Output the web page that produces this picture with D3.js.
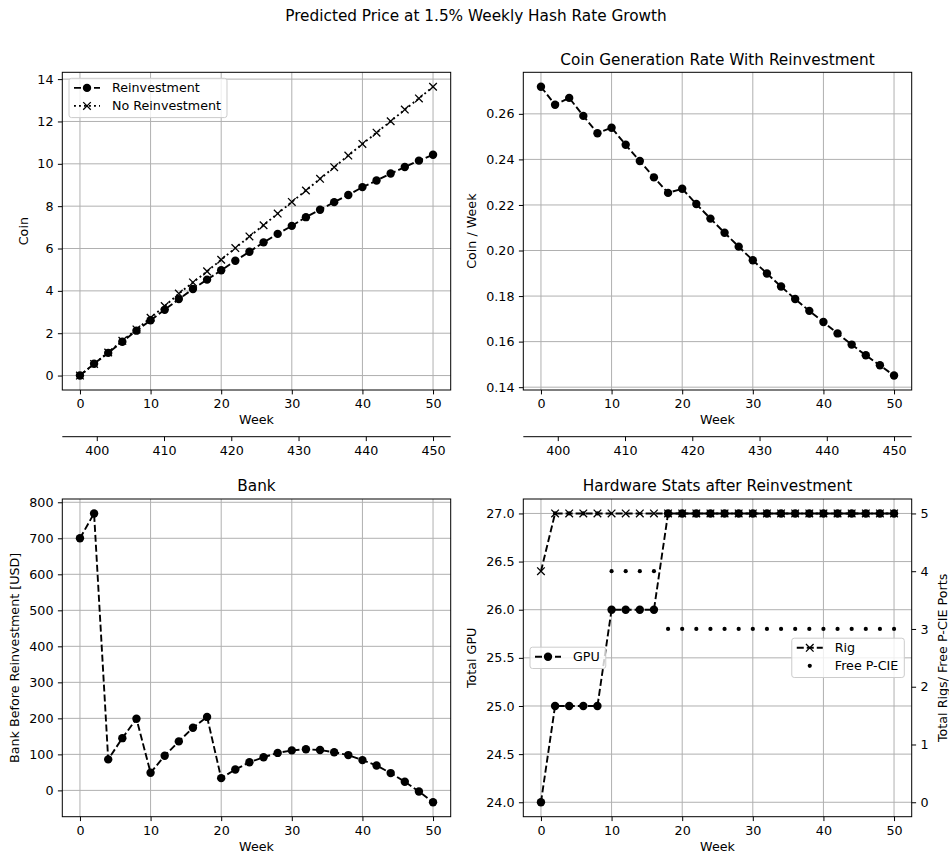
<!DOCTYPE html>
<html>
<head>
<meta charset="utf-8">
<script src="https://cdn.jsdelivr.net/npm/d3@7"></script>
<style>
  body { margin: 0; background: #fff; }
  svg { display: block; font-family: "DejaVu Sans", sans-serif; }
</style>
</head>
<body>
<svg id="chart" width="949" height="854"></svg>
<script>
const weeks = [0, 2, 4, 6, 8, 10, 12, 14, 16, 18, 20, 22, 24, 26, 28, 30, 32, 34, 36, 38, 40, 42, 44, 46, 48, 50];
const weekTicks = [0, 10, 20, 30, 40, 50];

const coinReinvest = [0, 0.56, 1.07, 1.60, 2.12, 2.61, 3.11, 3.61, 4.09, 4.53, 4.97, 5.42, 5.85, 6.29, 6.69, 7.07, 7.48, 7.83, 8.19, 8.53, 8.90, 9.21, 9.54, 9.85, 10.15, 10.43];
const coinNoReinvest = [0, 0.55, 1.09, 1.64, 2.18, 2.73, 3.28, 3.87, 4.40, 4.92, 5.47, 6.02, 6.57, 7.10, 7.65, 8.20, 8.74, 9.29, 9.84, 10.39, 10.94, 11.47, 12.01, 12.56, 13.09, 13.64];
const coinRate = [0.2719, 0.2640, 0.2670, 0.2591, 0.2515, 0.2539, 0.2464, 0.2393, 0.2321, 0.2253, 0.2271, 0.2204, 0.2140, 0.2078, 0.2017, 0.1957, 0.1899, 0.1842, 0.1787, 0.1735, 0.1686, 0.1636, 0.1587, 0.1540, 0.1496, 0.1451];
const bank = [700, 769, 86, 145, 199, 49, 96, 136, 174, 204, 34, 58, 78, 92, 104, 111, 114, 112, 106, 98, 84, 69, 48, 24, -3, -33];
const gpuCount = [24, 25, 25, 25, 25, 26, 26, 26, 26, 27, 27, 27, 27, 27, 27, 27, 27, 27, 27, 27, 27, 27, 27, 27, 27, 27];
const rigCount = [4, 5, 5, 5, 5, 5, 5, 5, 5, 5, 5, 5, 5, 5, 5, 5, 5, 5, 5, 5, 5, 5, 5, 5, 5, 5];
const freePcie = [0, 5, 5, 5, 5, 4, 4, 4, 4, 3, 3, 3, 3, 3, 3, 3, 3, 3, 3, 3, 3, 3, 3, 3, 3, 3];

const coinTicks = [0, 2, 4, 6, 8, 10, 12, 14];
const rateTicks = [0.14, 0.16, 0.18, 0.20, 0.22, 0.24, 0.26];
const bankTicks = [0, 100, 200, 300, 400, 500, 600, 700, 800];
const gpuTicks = [24.0, 24.5, 25.0, 25.5, 26.0, 26.5, 27.0];
const rigTicks = [0, 1, 2, 3, 4, 5];
const secondaryTicks = [400, 410, 420, 430, 440, 450];
// secondary week axis: value = start + perWeek * week
const secondaryStart = 397.5;
const secondaryPerWeek = 1.05;

const svg = d3.select("#chart");
const FONT = "DejaVu Sans, sans-serif";
const FS = 12.7, TITLE_FS = 15.3;
const LW = 1.9;
const DASH = "7,3", DOT = "1.9,3.1";
const GRID = "#b0b0b0";

const boxes = {
  tl: { x0: 62.3, x1: 450.7, y0: 72.3, y1: 390 },
  tr: { x0: 523.3, x1: 911.7, y0: 72.3, y1: 390 },
  bl: { x0: 62.3, x1: 450.7, y0: 499, y1: 816.7 },
  br: { x0: 523.3, x1: 911.7, y0: 499, y1: 816.7 }
};

function pad(ext) {
  const d = ext[1] - ext[0];
  return [ext[0] - 0.05 * d, ext[1] + 0.05 * d];
}

function styleAxis(sel) {
  sel.attr("font-family", FONT).attr("font-size", FS);
  sel.select(".domain").remove();
  sel.selectAll(".tick line").attr("stroke", "#000").attr("stroke-width", 1);
  sel.selectAll(".tick text").attr("fill", "#000");
}

function panel(box, yValues, yTicks, yFmt, title, yLabel, yLabelOffset) {
  const g = svg.append("g");
  const x = d3.scaleLinear().domain(pad(d3.extent(weeks))).range([box.x0, box.x1]);
  const y = d3.scaleLinear().domain(pad(d3.extent(yValues))).range([box.y1, box.y0]);

  const grid = g.append("g").attr("stroke", GRID).attr("stroke-width", 1);
  grid.selectAll(null).data(weekTicks).join("line")
    .attr("x1", d => x(d)).attr("x2", d => x(d)).attr("y1", box.y0).attr("y2", box.y1);
  grid.selectAll(null).data(yTicks).join("line")
    .attr("x1", box.x0).attr("x2", box.x1).attr("y1", d => y(d)).attr("y2", d => y(d));

  const data = g.append("g");
  const frame = g.append("g");
  const legendLayer = g.append("g");

  frame.append("rect")
    .attr("x", box.x0).attr("y", box.y0)
    .attr("width", box.x1 - box.x0).attr("height", box.y1 - box.y0)
    .attr("fill", "none").attr("stroke", "#000").attr("stroke-width", 1);

  frame.append("g").attr("transform", `translate(0,${box.y1})`)
    .call(d3.axisBottom(x).tickValues(weekTicks).tickFormat(d3.format("d")).tickSize(4.4).tickPadding(4.4))
    .call(styleAxis);
  frame.append("g").attr("transform", `translate(${box.x0},0)`)
    .call(d3.axisLeft(y).tickValues(yTicks).tickFormat(yFmt).tickSize(4.4).tickPadding(4.4))
    .call(styleAxis);

  const cx = (box.x0 + box.x1) / 2, cy = (box.y0 + box.y1) / 2;
  if (title) {
    frame.append("text").attr("x", cx).attr("y", box.y0 - 7.6)
      .attr("text-anchor", "middle").attr("font-size", TITLE_FS).text(title);
  }
  frame.append("text").attr("x", cx).attr("y", box.y1 + 34)
    .attr("text-anchor", "middle").attr("font-size", FS).text("Week");
  frame.append("text")
    .attr("transform", `translate(${box.x0 - yLabelOffset},${cy}) rotate(-90)`)
    .attr("text-anchor", "middle").attr("dominant-baseline", "central")
    .attr("font-size", FS).text(yLabel);

  return { g, x, y, data, frame, legendLayer, box };
}

function drawMarkers(layer, pts, marker) {
  if (marker === "o") {
    layer.selectAll(null).data(pts).join("circle")
      .attr("cx", d => d[0]).attr("cy", d => d[1]).attr("r", 4.2).attr("fill", "#000");
  } else if (marker === ".") {
    layer.selectAll(null).data(pts).join("circle")
      .attr("cx", d => d[0]).attr("cy", d => d[1]).attr("r", 2.1).attr("fill", "#000");
  } else if (marker === "x") {
    const s = 3.8;
    layer.selectAll(null).data(pts).join("path")
      .attr("d", d => `M${d[0] - s},${d[1] - s}L${d[0] + s},${d[1] + s}M${d[0] - s},${d[1] + s}L${d[0] + s},${d[1] - s}`)
      .attr("stroke", "#000").attr("stroke-width", 1.3).attr("fill", "none");
  }
}

function series(layer, x, y, vals, dash, marker) {
  const pts = d3.zip(weeks, vals);
  if (dash) {
    layer.append("path").datum(pts)
      .attr("fill", "none").attr("stroke", "#000").attr("stroke-width", LW)
      .attr("stroke-dasharray", dash)
      .attr("d", d3.line().x(d => x(d[0])).y(d => y(d[1])));
  }
  drawMarkers(layer, pts.map(d => [x(d[0]), y(d[1])]), marker);
}

// legend: pos = { left } or { right }, top or middle
function legend(layer, pos, items) {
  const g = layer.append("g");
  const bg = g.append("rect");
  let maxW = 0;
  items.forEach((it, i) => {
    const cy = 9.6 + 18 * i;
    if (it.dash) {
      g.append("line").attr("x1", 5).attr("x2", 31).attr("y1", cy).attr("y2", cy)
        .attr("stroke", "#000").attr("stroke-width", LW).attr("stroke-dasharray", it.dash);
    }
    drawMarkers(g, [[18, cy]], it.marker);
    const t = g.append("text").attr("x", 43).attr("y", cy)
      .attr("dominant-baseline", "central").attr("font-size", FS).text(it.label);
    maxW = Math.max(maxW, t.node().getComputedTextLength());
  });
  const w = 43 + maxW + 6, h = 3.3 + 18 * items.length;
  bg.attr("width", w).attr("height", h).attr("rx", 2.5)
    .attr("fill", "#fff").attr("fill-opacity", 0.8).attr("stroke", "#cccccc").attr("stroke-width", 1);
  const left = pos.left !== undefined ? pos.left : pos.right - w;
  const top = pos.top !== undefined ? pos.top : pos.middle - h / 2;
  g.attr("transform", `translate(${left},${top})`);
}

function secondaryAxis(p) {
  const toSecondary = w => secondaryStart + secondaryPerWeek * w;
  const s = d3.scaleLinear().domain(p.x.domain().map(toSecondary)).range([p.box.x0, p.box.x1]);
  const yPos = p.box.y1 + 46.7;
  p.frame.append("line").attr("x1", p.box.x0).attr("x2", p.box.x1)
    .attr("y1", yPos).attr("y2", yPos).attr("stroke", "#000").attr("stroke-width", 1);
  p.frame.append("g").attr("transform", `translate(0,${yPos})`)
    .call(d3.axisBottom(s).tickValues(secondaryTicks).tickFormat(d3.format("d")).tickSize(4.4).tickPadding(4.4))
    .call(styleAxis);
}

// suptitle
svg.append("text").attr("x", 476).attr("y", 21).attr("text-anchor", "middle")
  .attr("font-size", TITLE_FS).text("Predicted Price at 1.5% Weekly Hash Rate Growth");

// top left: coin
const tl = panel(boxes.tl, coinReinvest.concat(coinNoReinvest), coinTicks, d3.format("d"), null, "Coin", 39.3);
series(tl.data, tl.x, tl.y, coinReinvest, DASH, "o");
series(tl.data, tl.x, tl.y, coinNoReinvest, DOT, "x");
legend(tl.legendLayer, { left: boxes.tl.x0 + 6.7, top: boxes.tl.y0 + 6 }, [
  { label: "Reinvestment", dash: DASH, marker: "o" },
  { label: "No Reinvestment", dash: DOT, marker: "x" }
]);
secondaryAxis(tl);

// top right: coin generation rate
const tr = panel(boxes.tr, coinRate, rateTicks, d3.format(".2f"), "Coin Generation Rate With Reinvestment", "Coin / Week", 51.6);
series(tr.data, tr.x, tr.y, coinRate, DASH, "o");
secondaryAxis(tr);

// bottom left: bank
const bl = panel(boxes.bl, bank, bankTicks, d3.format("d"), "Bank", "Bank Before Reinvestment [USD]", 48.3);
series(bl.data, bl.x, bl.y, bank, DASH, "o");

// bottom right: hardware
const br = panel(boxes.br, gpuCount, gpuTicks, d3.format(".1f"), "Hardware Stats after Reinvestment", "Total GPU", 51.6);
series(br.data, br.x, br.y, gpuCount, DASH, "o");
const y2 = d3.scaleLinear().domain(pad(d3.extent(rigCount.concat(freePcie)))).range([boxes.br.y1, boxes.br.y0]);
series(br.data, br.x, y2, rigCount, DASH, "x");
series(br.data, br.x, y2, freePcie, null, ".");
br.frame.append("g").attr("transform", `translate(${boxes.br.x1},0)`)
  .call(d3.axisRight(y2).tickValues(rigTicks).tickFormat(d3.format("d")).tickSize(4.4).tickPadding(4.4))
  .call(styleAxis);
br.frame.append("text")
  .attr("transform", `translate(${boxes.br.x1 + 31},${(boxes.br.y0 + boxes.br.y1) / 2}) rotate(-90)`)
  .attr("text-anchor", "middle").attr("dominant-baseline", "central")
  .attr("font-size", FS).text("Total Rigs/ Free P-CIE Ports");
const brMid = (boxes.br.y0 + boxes.br.y1) / 2;
legend(br.legendLayer, { left: boxes.br.x0 + 6.7, middle: brMid }, [
  { label: "GPU", dash: DASH, marker: "o" }
]);
legend(br.legendLayer, { right: boxes.br.x1 - 7.4, middle: brMid }, [
  { label: "Rig", dash: DASH, marker: "x" },
  { label: "Free P-CIE", dash: null, marker: "." }
]);
</script>
</body>
</html>
